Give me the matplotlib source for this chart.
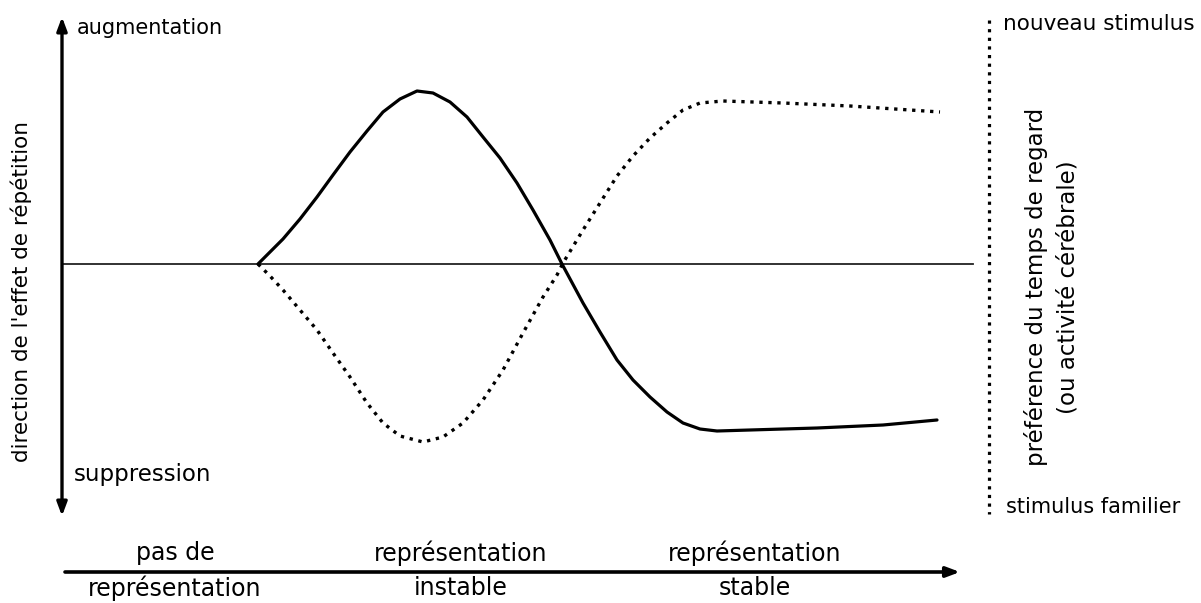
import matplotlib
matplotlib.use("Agg")
import matplotlib.pyplot as plt

plt.rcParams['font.family'] = ['DejaVu Sans']

# ---- data (x: progression, y: repetition effect relative to baseline) ----
solid_x = [258, 270, 283, 300, 317, 333, 350, 367, 383, 400, 417, 433, 450, 467, 483, 500,
           517, 533, 550, 562, 583, 600, 617, 633, 650, 667, 683, 700, 717, 750, 817, 883, 937]
solid_y = [0, 12, 25, 45, 67, 89, 112, 133, 152, 165, 173, 171, 162, 147, 127, 106,
           81, 54, 24, 0, -39, -68, -96, -116, -133, -148, -159, -165, -167, -166, -164, -161, -156]

dotted_x = [258, 270, 283, 300, 317, 333, 350, 367, 383, 400, 423, 443, 463, 483, 503, 523,
            543, 557, 563, 583, 600, 617, 633, 650, 667, 683, 700, 723, 783, 850, 940]
dotted_y = [0, -12, -26, -46, -66, -89, -113, -139, -159, -172, -178, -173, -159, -136, -106, -69,
            -33, -11, 1, 34, 61, 88, 108, 126, 141, 154, 161, 163, 161, 158, 152]

stage_labels = ["pas de\nreprésentation", "représentation\ninstable", "représentation\nstable"]
stage_pos = [175, 461, 755]

left_top = "augmentation"
left_bottom = "suppression"
left_title = "direction de l'effet de répétition"
right_top = "nouveau stimulus"
right_bottom = "stimulus familier"
right_title = "préférence du temps de regard\n(ou activité cérébrale)"

W, H = 1201, 603
fig = plt.figure(figsize=(W / 100, H / 100), dpi=100)
ax = fig.add_axes([0, 0, 1, 1])
ax.set_xlim(0, W)
ax.set_ylim(264 - H, 264)
ax.axis('off')

# baseline
ax.plot([62, 973], [0, 0], color='#222222', lw=1.3)

# curves
ax.plot(solid_x, solid_y, color='black', lw=2.3, solid_capstyle='round', solid_joinstyle='round')
ax.plot(dotted_x, dotted_y, color='black', lw=2.4, linestyle=(0, (1, 1.7)))

# left double arrow
ax.annotate('', xy=(62, 264 - 17), xytext=(62, 264 - 516),
            arrowprops=dict(arrowstyle='<|-|>,head_length=0.8,head_width=0.3', color='black', lw=2.4,
                            shrinkA=0, shrinkB=0))

# right dotted line
ax.plot([989, 989], [264 - 20, 264 - 514], color='black', lw=2.3, linestyle=(0, (1, 1.7)))

# bottom arrow
ax.annotate('', xy=(960, 264 - 572), xytext=(65, 264 - 572),
            arrowprops=dict(arrowstyle='-|>,head_length=0.8,head_width=0.3', color='black', lw=2.6,
                            shrinkA=0, shrinkB=0))

# texts
ax.text(77, 264 - 28, left_top, fontsize=15, ha='left', va='center')
ax.text(74, 264 - 474, left_bottom, fontsize=16.5, ha='left', va='center')
ax.text(21, 264 - 291, left_title, fontsize=15.5, rotation=90, ha='center', va='center')

ax.text(1003, 264 - 24, right_top, fontsize=15.5, ha='left', va='center')
ax.text(1006, 264 - 507, right_bottom, fontsize=15, ha='left', va='center')
ax.text(1052, 264 - 287, right_title, fontsize=16.5, rotation=90, ha='center', va='center',
        multialignment='center', linespacing=1.45)

for lab, xp in zip(stage_labels, stage_pos):
    top, bot = lab.split("\n")
    ax.text(xp, 264 - 553, top, fontsize=17, ha='center', va='center')
    ax.text(xp, 264 - 588, bot, fontsize=17, ha='center', va='center')

fig.savefig("out.png", dpi=100, facecolor='white')
